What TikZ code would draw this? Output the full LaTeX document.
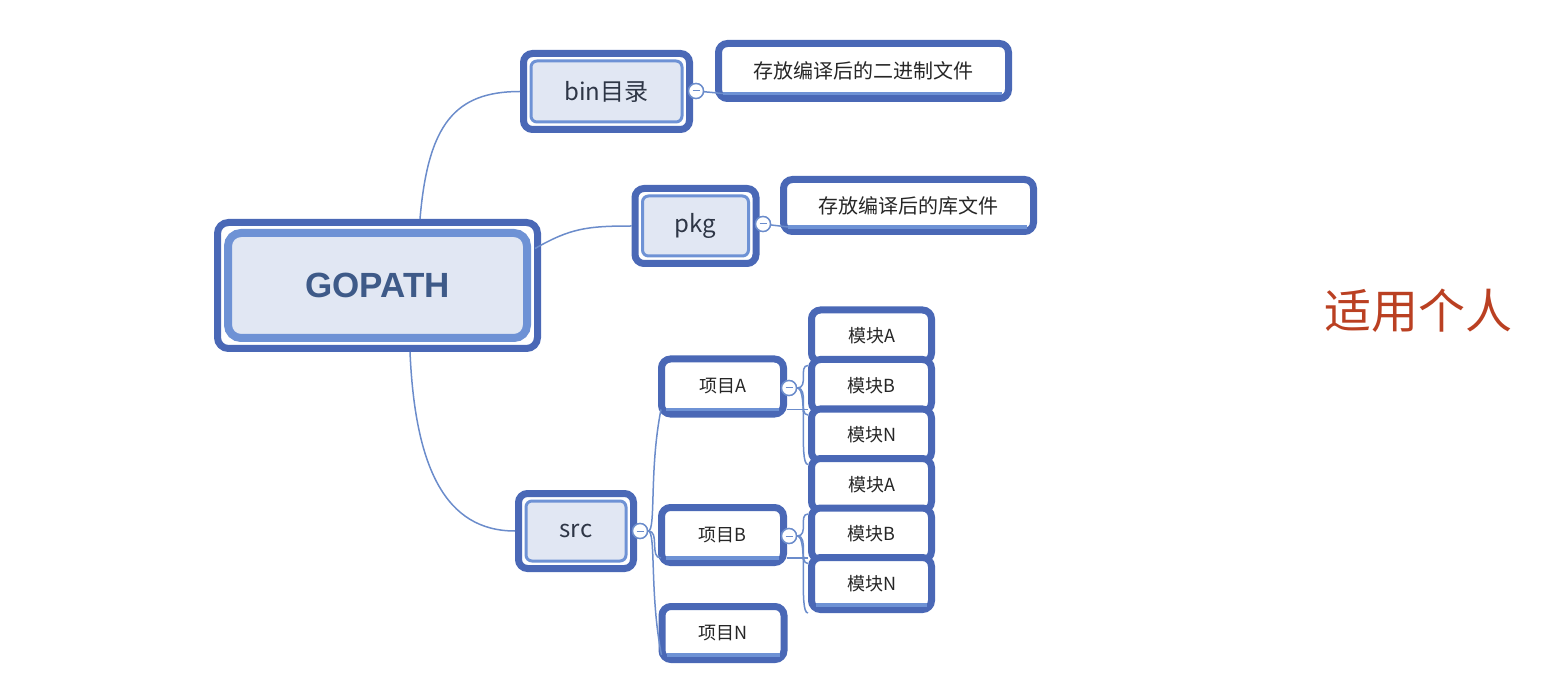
\documentclass[tikz,border=0pt]{standalone}
\usepackage{fontspec}
\setmainfont{Noto Sans CJK SC}
\newfontfamily\titrefont{Liberation Sans}
\usepackage{tikz}

\definecolor{bordfonce}{RGB}{74,104,182}
\definecolor{bordclair}{RGB}{110,146,213}
\definecolor{fondclair}{RGB}{225,231,243}
\definecolor{lienc}{RGB}{107,140,203}
\definecolor{texte}{RGB}{46,54,70}
\definecolor{titre}{RGB}{62,90,136}
\definecolor{rouge}{RGB}{186,64,34}

\tikzset{
  racine/.style={draw=bordfonce, line width=7, fill=white, rounded corners=11, inner sep=0,
    text=titre, font=\titrefont\fontsize{35}{40}\selectfont\bfseries,
    path picture={\draw[draw=bordclair, line width=8, fill=fondclair, rounded corners=13]
      ([xshift=10.5,yshift=-10.5]path picture bounding box.north west) rectangle
      ([xshift=-10.5,yshift=10.5]path picture bounding box.south east);}},
  sujet/.style={draw=bordfonce, line width=7, fill=white, rounded corners=9, inner sep=0,
    text=texte, font=\fontsize{24}{28}\selectfont,
    path picture={\draw[draw=bordclair, line width=3, fill=fondclair, rounded corners=6]
      ([xshift=7.5,yshift=-7.5]path picture bounding box.north west) rectangle
      ([xshift=-7.5,yshift=7.5]path picture bounding box.south east);}},
  feuille/.style={draw=bordfonce, line width=7, fill=white, rounded corners=9, inner sep=0,
    text=black!85, font=\fontsize{20}{24}\selectfont},
  projet/.style={feuille, minimum width=122, minimum height=55, font=\fontsize{18}{22}\selectfont},
  module/.style={feuille, minimum width=120, minimum height=52, font=\fontsize{18}{22}\selectfont},
  lien/.style={draw=lienc, line width=1.5},
  souligne/.style={draw=bordclair, line width=3.5},
  pli/.style={circle, draw=lienc, line width=1.4, fill=white, minimum size=15, inner sep=0,
    path picture={\draw[lienc, line width=1] ([xshift=4]path picture bounding box.west)
      -- ([xshift=-4]path picture bounding box.east);}},
}

\begin{document}
\begin{tikzpicture}[x=1pt,y=-1pt]
  \useasboundingbox (0,0) rectangle (1542,700);

  % Noeud central
  \node[racine, minimum width=320, minimum height=126] (gopath) at (377.5,285.5) {GOPATH};

  % Sous-dossiers
  \node[sujet, minimum width=166, minimum height=76] (bin) at (606.5,91.5) {bin目录};
  \node[sujet, minimum width=121, minimum height=75] (pkg) at (695.5,226) {pkg};
  \node[sujet, minimum width=115, minimum height=75] (src) at (576,531) {src};

  % Descriptions
  \node[feuille, minimum width=290, minimum height=55] (binnote) at (863.5,71) {存放编译后的二进制文件};
  \draw[souligne] ([xshift=8,yshift=8.5]binnote.south west) -- ([xshift=-10,yshift=8.5]binnote.south east);
  \node[feuille, minimum width=250, minimum height=52] (pkgnote) at (908.5,205.5) {存放编译后的库文件};
  \draw[souligne] ([xshift=8,yshift=8]pkgnote.south west) -- ([xshift=-10,yshift=8]pkgnote.south east);

  % Projets
  \node[projet] (proja) at (722.5,386.5) {项目A};
  \draw[souligne] ([xshift=8,yshift=8]proja.south west) -- ([xshift=-8,yshift=8]proja.south east);
  \node[projet] (projb) at (722.5,535) {项目B};
  \draw[souligne] ([xshift=8,yshift=8]projb.south west) -- ([xshift=-8,yshift=8]projb.south east);
  \node[projet, minimum height=53] (projn) at (723,633) {项目N};
  \draw[souligne] ([xshift=8,yshift=8]projn.south west) -- ([xshift=-8,yshift=8]projn.south east);

  % Modules
  \node[module] (moda1) at (871.5,336) {模块A};
  \node[module] (modb1) at (871.5,385.5) {模块B};
  \node[module] (modn1) at (871.5,435) {模块N};
  \node[module] (moda2) at (871.5,484.5) {模块A};
  \node[module] (modb2) at (871.5,534) {模块B};
  \node[module] (modn2) at (871.5,583.5) {模块N};
  \draw[souligne] ([xshift=8,yshift=8]modn2.south west) -- ([xshift=-8,yshift=8]modn2.south east);

  % Liens depuis GOPATH
  \draw[lien] ([xshift=42.5]gopath.north) .. controls +(8,-95) and +(-65,0) .. (bin.west);
  \draw[lien] ([xshift=-6,yshift=37]gopath.east) .. controls +(35,-20) and +(-45,0) .. (pkg.west);
  \draw[lien] ([xshift=32.5]gopath.south) .. controls +(5,115) and +(-70,0) .. (src.west);

  % Liens vers les descriptions
  \node[pli] (binfold) at (696,91) {};
  \node[pli] (pkgfold) at (763,224) {};
  \draw[lien] (bin.east) -- (binfold) -- ([xshift=8,yshift=8.5]binnote.south west);
  \draw[lien] (pkg.east) -- (pkgfold) -- ([xshift=8,yshift=8]pkgnote.south west);
  \node[pli] at (binfold) {};
  \node[pli] at (pkgfold) {};

  % Liens vers les projets
  \node[pli] (srcfold) at (640,531) {};
  \draw[lien] (src.east) -- (srcfold);
  \draw[lien] (srcfold.east) .. controls +(8,0) and +(-12,60) .. ([xshift=3,yshift=8]proja.south west);
  \draw[lien] (srcfold.east) .. controls +(12,0) and +(-12,0) .. ([xshift=3,yshift=8]projb.south west);
  \draw[lien] (srcfold.east) .. controls +(8,0) and +(-12,-60) .. ([xshift=3,yshift=8]projn.south west);
  \node[pli] at (srcfold) {};

  % Liens vers les modules
  \coordinate (pa) at ([yshift=8]proja.south east);
  \coordinate (pb) at ([yshift=8]projb.south east);
  \draw[lien] (pa) -- (pa -| modb1.west);
  \draw[lien] (pb) -- (pb -| modb2.west);
  \node[pli] (pafold) at (789,388) {};
  \node[pli] (pbfold) at (789,536) {};
  \draw[lien] (proja.east) -- (pafold);
  \draw[lien] (projb.east) -- (pbfold);
  \draw[lien] (pafold.east) .. controls +(12,0) and +(-10,0) .. (moda1.south west);
  \draw[lien] (pafold.east) .. controls +(12,0) and +(-10,0) .. (modb1.south west);
  \draw[lien] (pafold.east) .. controls +(12,0) and +(-10,0) .. (modn1.south west);
  \draw[lien] (pbfold.east) .. controls +(12,0) and +(-10,0) .. (moda2.south west);
  \draw[lien] (pbfold.east) .. controls +(12,0) and +(-10,0) .. (modb2.south west);
  \draw[lien] (pbfold.east) .. controls +(12,0) and +(-10,0) .. (modn2.south west);
  \node[pli] at (pafold) {};
  \node[pli] at (pbfold) {};

  % Remarque
  \node[text=rouge, font=\fontsize{47}{52}\selectfont] (perso) at (1418,311) {适用个人};
\end{tikzpicture}
\end{document}
